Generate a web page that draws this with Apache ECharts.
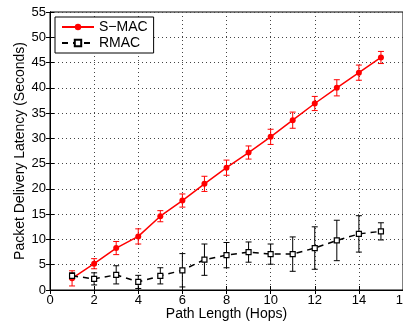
<!DOCTYPE html>
<html><head><meta charset="utf-8">
<script src="https://cdn.jsdelivr.net/npm/echarts@6/dist/echarts.min.js"></script>
<style>html,body{margin:0;padding:0;background:#fff}#c{width:403px;height:325px}</style>
</head><body><div id="c"></div>
<script>
const hops = [1,2,3,4,5,6,7,8,9,10,11,12,13,14,15];
const smacMean = [2.3,5.2,8.3,10.6,14.6,17.7,21.0,24.2,27.2,30.3,33.6,36.9,40.0,43.0,46.0];
const smacErr  = [1.5,1.0,1.3,1.5,1.1,1.3,1.5,1.5,1.3,1.5,1.6,1.4,1.6,1.5,1.2];
const rmacMean = [2.8,2.2,3.0,1.6,2.8,3.9,6.0,6.9,7.5,7.1,7.1,8.3,9.8,11.1,11.6];
const rmacErr  = [0.6,1.2,1.8,1.3,1.6,3.3,3.1,2.5,2.0,2.0,3.4,4.2,4.0,3.6,1.7];
const xTicks = [0,2,4,6,8,10,12,14,16];
const yTicks = [0,5,10,15,20,25,30,35,40,45,50,55];

const FONT = 'Liberation Sans, Arial, sans-serif';
const chart = echarts.init(document.getElementById('c'), null, {renderer:'canvas'});

function errSeries(mean, err, color) {
  const data = hops.map((h,i)=>[h, mean[i]-err[i], mean[i]+err[i]]);
  return {
    type:'custom', silent:true, z:1,
    data: data,
    renderItem: function(params, api){
      const x = api.value(0);
      const lo = api.coord([x, api.value(1)]);
      const hi = api.coord([x, api.value(2)]);
      const w = 3;
      const st = {stroke: color, lineWidth: 1};
      return {type:'group', children:[
        {type:'line', shape:{x1:lo[0],y1:lo[1],x2:hi[0],y2:hi[1]}, style:st},
        {type:'line', shape:{x1:lo[0]-w,y1:lo[1],x2:lo[0]+w,y2:lo[1]}, style:st},
        {type:'line', shape:{x1:hi[0]-w,y1:hi[1],x2:hi[0]+w,y2:hi[1]}, style:st}
      ]};
    },
    encode:{x:0, y:[1,2]}
  };
}

const gridLine = {show:true, lineStyle:{color:'#444', type:[1,3], width:1}};
chart.setOption({
  animation:false,
  backgroundColor:'#fff',
  grid:{left:50, right:0, top:12, bottom:35, show:true, borderColor:'#000', borderWidth:1,
        outerBoundsMode:'none', containLabel:false},
  legend:{
    data:['S\u2212MAC','RMAC'],
    left:55, top:17, orient:'vertical',
    backgroundColor:'#fff', borderColor:'#000', borderWidth:1, borderRadius:0,
    padding:[3,6,3,6], itemGap:2, itemWidth:32, itemHeight:8,
    textStyle:{fontFamily:FONT, fontSize:14, color:'#000'}
  },
  xAxis:[{
    type:'value', min:0, max:16, interval:2,
    name:'Path Length (Hops)', nameLocation:'middle', nameGap:17, nameMoveOverlap:false,
    nameTextStyle:{fontFamily:FONT, fontSize:14, color:'#000'},
    axisLine:{lineStyle:{color:'#000'}}, axisTick:{inside:true, length:4, lineStyle:{color:'#000'}},
    axisLabel:{fontFamily:FONT, fontSize:13, color:'#000', margin:4, hideOverlap:false, showMaxLabel:true},
    splitLine:gridLine
  },{
    type:'value', min:0, max:16, interval:2, position:'top',
    axisLine:{show:true, lineStyle:{color:'#000'}}, axisTick:{inside:true, length:4, lineStyle:{color:'#000'}},
    axisLabel:{show:false}, splitLine:{show:false}
  }],
  yAxis:[{
    type:'value', min:0, max:55, interval:5,
    name:'Packet Delivery Latency (Seconds)', nameLocation:'middle', nameGap:23, nameMoveOverlap:false,
    nameTextStyle:{fontFamily:FONT, fontSize:14, color:'#000'},
    axisLine:{lineStyle:{color:'#000'}}, axisTick:{inside:true, length:4, lineStyle:{color:'#000'}},
    axisLabel:{fontFamily:FONT, fontSize:13, color:'#000', margin:4},
    splitLine:gridLine
  },{
    type:'value', min:0, max:55, interval:5, position:'right',
    axisLine:{show:true, lineStyle:{color:'#000'}}, axisTick:{inside:true, length:4, lineStyle:{color:'#000'}},
    axisLabel:{show:false}, splitLine:{show:false}
  }],
  series:[
    errSeries(smacMean, smacErr, '#ff0000'),
    errSeries(rmacMean, rmacErr, '#000000'),
    {
      name:'S\u2212MAC', type:'line', z:3,
      data: hops.map((h,i)=>[h, smacMean[i]]),
      symbol:'circle', symbolSize:6,
      itemStyle:{color:'#ff0000'},
      lineStyle:{color:'#ff0000', width:1.5}
    },
    {
      name:'RMAC', type:'line', z:3,
      data: hops.map((h,i)=>[h, rmacMean[i]]),
      symbol:'rect', symbolSize:5,
      itemStyle:{color:'#fff', borderColor:'#000', borderWidth:1.2},
      lineStyle:{color:'#000', width:1.5, type:[6,5]}
    }
  ]
});
</script></body></html>
